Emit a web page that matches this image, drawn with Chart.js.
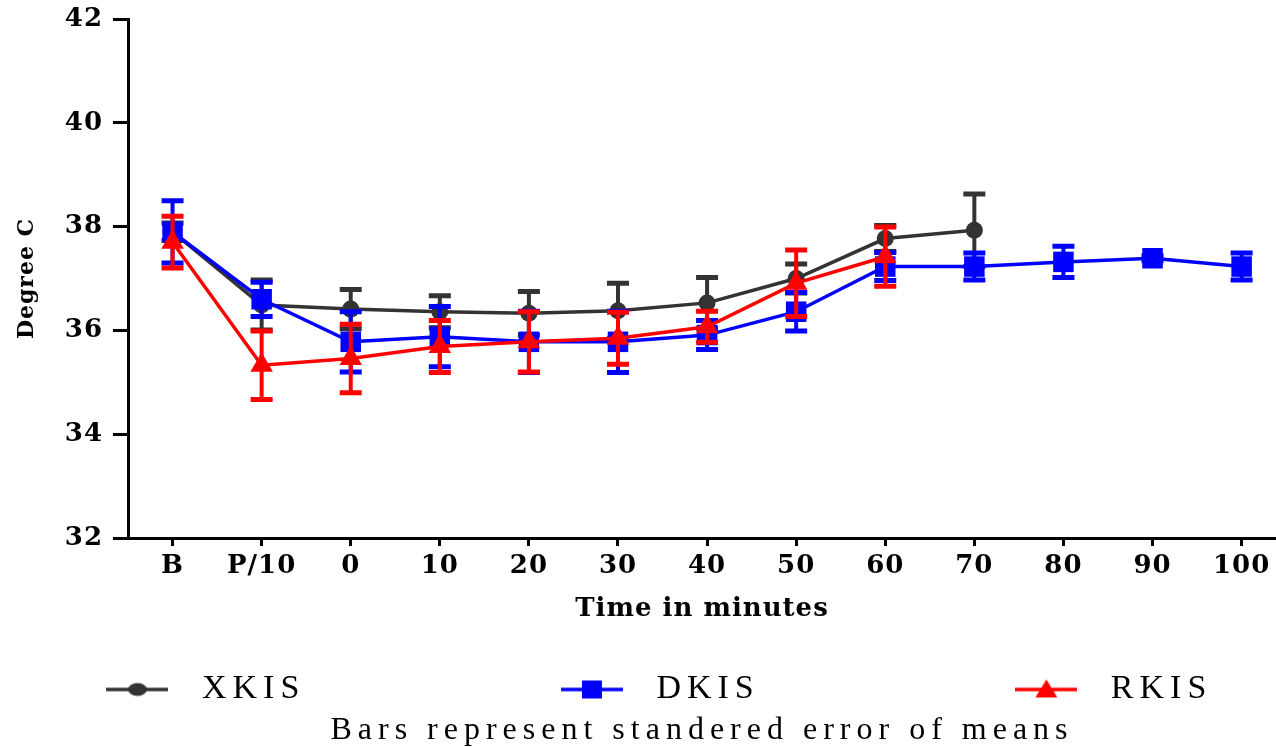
<!DOCTYPE html>
<html>
<head>
<meta charset="utf-8">
<script src="https://cdn.jsdelivr.net/npm/chart.js@4"></script>
<style>
  body { margin: 0; background: #fff; }
  #wrap { width: 1276px; height: 747px; }
</style>
</head>
<body>
<div id="wrap"><canvas id="plot-01"></canvas></div>
<script>
const categories = ['B', 'P/10', '0', '10', '20', '30', '40', '50', '60', '70', '80', '90', '100'];
const yTicks = [32, 34, 36, 38, 40, 42];

const xkisMean = [37.90, 36.49, 36.41, 36.36, 36.33, 36.38, 36.53, 37.00, 37.77, 37.93, null, null, null];
const xkisSem  = [0.17, 0.48, 0.38, 0.31, 0.42, 0.53, 0.49, 0.28, 0.25, 0.70, null, null, null];

const dkisMean = [37.90, 36.60, 35.78, 35.88, 35.78, 35.78, 35.91, 36.36, 37.23, 37.23, 37.32, 37.39, 37.23];
const dkisSem  = [0.60, 0.33, 0.58, 0.58, 0.59, 0.59, 0.28, 0.37, 0.27, 0.26, 0.30, 0.05, 0.26];

const rkisMean = [37.70, 35.33, 35.46, 35.69, 35.78, 35.85, 36.07, 36.91, 37.42, null, null, null, null];
const rkisSem  = [0.50, 0.66, 0.66, 0.50, 0.58, 0.50, 0.30, 0.64, 0.57, null, null, null, null];

function points(arr) {
    return arr.map((v, i) => ({x: i, y: v}));
}

// small picture of line + marker for the legend
function legendIcon(color, style) {
    const c = document.createElement('canvas');
    c.width = 62;
    c.height = 24;
    const g = c.getContext('2d');
    g.strokeStyle = color;
    g.fillStyle = color;
    g.lineWidth = 3.5;
    g.beginPath();
    g.moveTo(0, 12);
    g.lineTo(62, 12);
    g.stroke();
    g.beginPath();
    if (style === 'circle') {
        g.ellipse(31, 12, 9.5, 6.5, 0, 0, Math.PI * 2);
    } else if (style === 'rect') {
        g.rect(21, 3, 20, 18);
    } else {
        g.moveTo(31, 2);
        g.lineTo(42, 20);
        g.lineTo(20, 20);
        g.closePath();
    }
    g.fill();
    return c;
}

// legend and footnote are spread out in the reference, axis text much less
const textSpacing = {
    id: 'textSpacing',
    beforeUpdate(chart) { chart.ctx.letterSpacing = '6px'; },
    beforeDraw(chart) { chart.ctx.letterSpacing = '6px'; },
    afterDatasetsDraw(chart) { chart.ctx.letterSpacing = '1px'; }
};

const errorBars = {
    id: 'errorBars',
    afterDatasetDraw(chart, args) {
        const ds = chart.data.datasets[args.index];
        if (!ds.sem) return;
        const ctx = chart.ctx;
        const xs = chart.scales.x;
        const ys = chart.scales.y;
        ctx.save();
        ctx.strokeStyle = ds.borderColor;
        ds.data.forEach((p, i) => {
            const e = ds.sem[i];
            if (p.y == null || e == null) return;
            const x = xs.getPixelForValue(p.x);
            const top = ys.getPixelForValue(p.y + e);
            const bot = ys.getPixelForValue(p.y - e);
            ctx.lineWidth = 4;
            ctx.beginPath();
            ctx.moveTo(x, top);
            ctx.lineTo(x, bot);
            ctx.stroke();
            ctx.lineWidth = 5;
            ctx.beginPath();
            ctx.moveTo(x - 11, top);
            ctx.lineTo(x + 11, top);
            ctx.moveTo(x - 11, bot);
            ctx.lineTo(x + 11, bot);
            ctx.stroke();
        });
        ctx.restore();
    }
};

const series = [
    {label: 'XKIS', mean: xkisMean, sem: xkisSem, color: '#333333', style: 'circle', radius: 8.5, order: 3},
    {label: 'DKIS', mean: dkisMean, sem: dkisSem, color: '#0000FF', style: 'rect', radius: 14.5, order: 2},
    {label: 'RKIS', mean: rkisMean, sem: rkisSem, color: '#FF0000', style: 'triangle', radius: 13, order: 1},
];

const data = {
    datasets: series.map(s => ({
        label: s.label,
        data: points(s.mean),
        sem: s.sem,
        borderColor: s.color,
        backgroundColor: s.color,
        borderWidth: 3.5,
        pointStyle: s.style,
        pointRadius: s.radius,
        pointBorderWidth: 0,
        pointHoverRadius: s.radius,
        order: s.order,
        icon: legendIcon(s.color, s.style),
    }))
};

const legendPad = ' '.repeat(13);

const config = {
    type: 'line',
    data: data,
    plugins: [textSpacing, errorBars],
    options: {
        responsive: true,
        maintainAspectRatio: false,
        animation: false,
        layout: {
            autoPadding: false,
            padding: {top: 19, right: 0, bottom: 9.7, left: 26.3}
        },
        scales: {
            x: {
                type: 'linear',
                min: -0.5,
                max: 12.386,
                afterBuildTicks: (scale) => {
                    scale.ticks = categories.map((c, i) => ({value: i}));
                },
                afterFit: (scale) => {
                    scale.height = 83.9;
                    scale.paddingLeft = 0;
                    scale.paddingRight = 0;
                },
                border: {z: 1, color: '#000', width: 3},
                grid: {z: 1, drawOnChartArea: false, drawTicks: true, tickLength: 8, color: '#000', lineWidth: 3},
                ticks: {
                    z: 1,
                    autoSkip: false,
                    maxRotation: 0,
                    padding: 5,
                    color: '#000',
                    font: {family: 'DejaVu Serif', weight: 'bold', size: 26},
                    callback: (v) => categories[v]
                },
                title: {
                    display: true,
                    text: 'Time in minutes',
                    color: '#000',
                    padding: 0,
                    font: {family: 'DejaVu Serif', weight: 'bold', size: 26, lineHeight: 1}
                }
            },
            y: {
                min: 32,
                max: 42,
                afterBuildTicks: (scale) => {
                    scale.ticks = yTicks.map(v => ({value: v}));
                },
                afterFit: (scale) => {
                    scale.width = 101.7;
                    scale.paddingTop = 0;
                    scale.paddingBottom = 0;
                },
                border: {z: 1, color: '#000', width: 3},
                grid: {z: 1, drawOnChartArea: false, drawTicks: true, tickLength: 15, color: '#000', lineWidth: 3},
                ticks: {
                    z: 1,
                    padding: 10,
                    color: '#000',
                    font: {family: 'DejaVu Serif', weight: 'bold', size: 26}
                },
                title: {
                    display: true,
                    text: 'Degree C',
                    color: '#000',
                    padding: {top: -12.5, bottom: 0},
                    font: {family: 'DejaVu Serif', weight: 'bold', size: 22}
                }
            }
        },
        plugins: {
            tooltip: {enabled: false},
            legend: {
                position: 'bottom',
                labels: {
                    usePointStyle: true,
                    pointStyleWidth: 95,
                    boxHeight: 34,
                    padding: 50.6,
                    color: '#000',
                    font: {family: 'Liberation Serif', size: 34, lineHeight: 1},
                    generateLabels: (chart) => chart.data.datasets.map((ds, i) => ({
                        text: i < 2 ? ds.label + legendPad : ds.label,
                        pointStyle: ds.icon,
                        fillStyle: ds.borderColor,
                        strokeStyle: ds.borderColor,
                        lineWidth: 0,
                        datasetIndex: i,
                        hidden: false
                    }))
                }
            },
            subtitle: {
                display: true,
                position: 'bottom',
                fullSize: false,
                text: 'Bars represent standered error of means',
                color: '#000',
                padding: {top: 8, bottom: 0},
                font: {family: 'Liberation Serif', size: 32, weight: 'normal', lineHeight: 0.4}
            }
        }
    }
};

const myChart = new Chart(
    document.getElementById('plot-01').getContext('2d'),
    config
);
</script>
</body>
</html>
